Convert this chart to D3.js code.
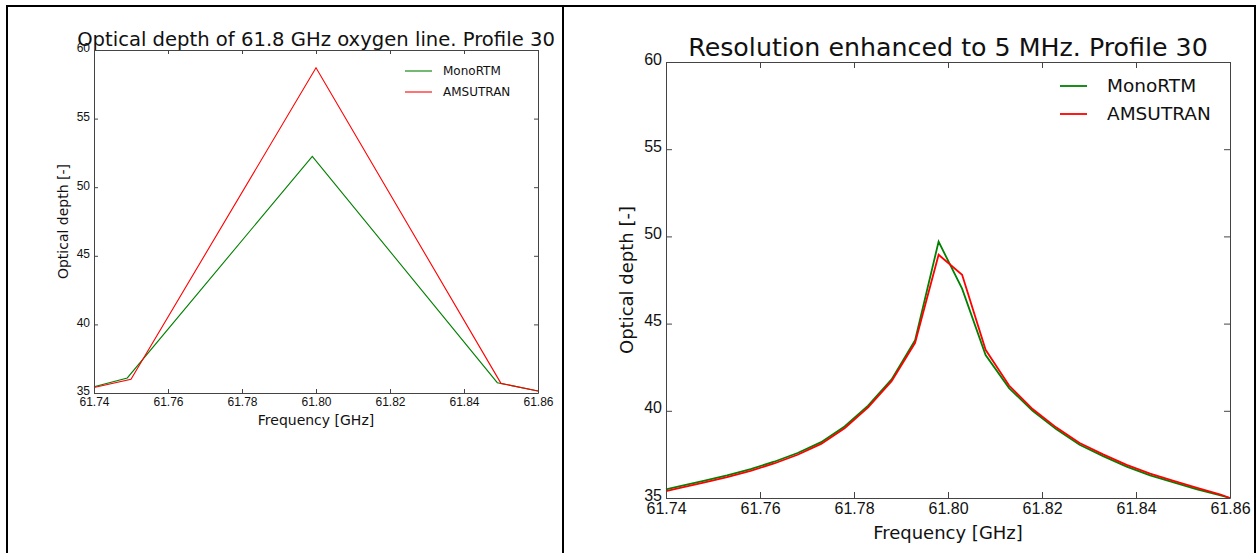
<!DOCTYPE html>
<html>
<head>
<meta charset="utf-8">
<script src="https://cdn.jsdelivr.net/npm/d3@7"></script>
<style>
    body { margin: 0; background: #fff; }
    svg { display: block; font-family: "DejaVu Sans", sans-serif; }
    .axis path, .axis line { stroke: #444; }
    .axis text { fill: #111; }
    .series { fill: none; }
</style>
</head>
<body>
<div id="chart"></div>
<script>
const width = 1258
const height = 553

// left panel: coarse grid
const lowFreqMono = [61.74, 61.749, 61.799, 61.849, 61.86]
const lowMono = [35.45, 36.1, 52.25, 35.75, 35.15]
const lowFreqAms = [61.74, 61.75, 61.80, 61.85, 61.86]
const lowAms = [35.4, 36.0, 58.7, 35.7, 35.15]

// right panel: 5 MHz grid
const hiFreq = [61.740, 61.743, 61.748, 61.753, 61.758, 61.763, 61.768, 61.773, 61.778, 61.783,
    61.788, 61.793, 61.798, 61.803, 61.808, 61.813, 61.818, 61.823, 61.828, 61.833,
    61.838, 61.843, 61.848, 61.853, 61.858, 61.860]
const hiMono = [35.50, 35.68, 35.98, 36.30, 36.66, 37.08, 37.58, 38.20, 39.10, 40.30,
    41.80, 44.05, 49.70, 47.00, 43.20, 41.30, 40.00, 38.95, 38.05, 37.40,
    36.80, 36.30, 35.90, 35.50, 35.15, 35.00]
const hiAms = [35.40, 35.58, 35.88, 36.20, 36.56, 36.98, 37.48, 38.10, 39.00, 40.20,
    41.70, 43.90, 48.95, 47.80, 43.50, 41.45, 40.10, 39.05, 38.15, 37.50,
    36.90, 36.40, 35.98, 35.58, 35.20, 35.00]

const xTicks = [61.74, 61.76, 61.78, 61.80, 61.82, 61.84, 61.86]
const yTicks = [35, 40, 45, 50, 55, 60]
const seriesNames = ['MonoRTM', 'AMSUTRAN']
const colors = ['#008000', '#ff0000']

let svg = d3.select('#chart').append('svg').attr('width', width).attr('height', height)

// table borders
let borderGroup = svg.append('g').attr('id', 'borderGroup')
    .attr('stroke', '#000').attr('stroke-width', 2)
borderGroup.append('line').attr('x1', 6).attr('x2', 1256).attr('y1', 6).attr('y2', 6)
borderGroup.selectAll('line.v').data([7, 563, 1255]).enter().append('line')
    .attr('class', 'v')
    .attr('x1', d => d).attr('x2', d => d).attr('y1', 6).attr('y2', height)

const panels = [
    {
        id: 'left',
        left: 94, right: 538, top: 50, bottom: 393,
        title: 'Optical depth of 61.8 GHz oxygen line. Profile 30',
        titleSize: 19.6, titleY: 46,
        tickSize: 12, labelSize: 14, legendSize: 12,
        xPad: 4, yShift: -2,
        yLabelX: 63, xLabelY: 425,
        lineWidth: 1.1, tick: 4,
        legend: { x: 405, y: 71, gap: 21, len: 27, textX: 443 },
        series: [
            { x: lowFreqMono, y: lowMono },
            { x: lowFreqAms, y: lowAms }
        ]
    },
    {
        id: 'right',
        left: 666, right: 1230, top: 62, bottom: 498,
        title: 'Resolution enhanced to 5 MHz. Profile 30',
        titleSize: 25.3, titleY: 56,
        tickSize: 16, labelSize: 18, legendSize: 18.5,
        xPad: 5, yShift: -3,
        yLabelX: 627, xLabelY: 539,
        lineWidth: 1.8, tick: 6,
        legend: { x: 1060, y: 86, gap: 28, len: 27, textX: 1107 },
        series: [
            { x: hiFreq, y: hiMono },
            { x: hiFreq, y: hiAms }
        ]
    }
]

panels.forEach(drawPanel)

function drawPanel(p) {
    const w = p.right - p.left
    const h = p.bottom - p.top

    let x = d3.scaleLinear().domain([61.74, 61.86]).range([0, w])
    let y = d3.scaleLinear().domain([35, 60]).range([h, 0])

    let g = svg.append('g').attr('id', p.id)
        .attr('transform', `translate(${p.left}, ${p.top})`)

    // lines
    let line = d3.line().x(d => x(d[0])).y(d => y(d[1]))
    p.series.forEach((s, i) => {
        g.append('path')
            .attr('class', 'series')
            .attr('d', line(s.x.map((f, j) => [f, s.y[j]])))
            .attr('stroke', colors[i])
            .attr('stroke-width', p.lineWidth)
    })

    // axes, ticks pointing inwards on all four sides
    let fmt = d3.format('.2f')
    let xAxisGroup = g.append('g').attr('class', 'axis')
        .attr('transform', `translate(0, ${h})`)
        .call(d3.axisBottom(x).tickValues(xTicks).tickFormat(fmt)
            .tickSizeInner(-p.tick).tickSizeOuter(0).tickPadding(p.xPad))
    xAxisGroup.selectAll('text').style('font-size', p.tickSize + 'px')

    let yAxisGroup = g.append('g').attr('class', 'axis')
        .call(d3.axisLeft(y).tickValues(yTicks)
            .tickSizeInner(-p.tick).tickSizeOuter(0).tickPadding(4))
    yAxisGroup.selectAll('text')
        .style('font-size', p.tickSize + 'px')
        .attr('y', p.yShift)

    g.append('g').attr('class', 'axis')
        .call(d3.axisTop(x).tickValues(xTicks).tickFormat('')
            .tickSizeInner(-p.tick).tickSizeOuter(0))
    g.append('g').attr('class', 'axis')
        .attr('transform', `translate(${w}, 0)`)
        .call(d3.axisRight(y).tickValues(yTicks).tickFormat('')
            .tickSizeInner(-p.tick).tickSizeOuter(0))

    g.selectAll('.axis path, .axis line').attr('stroke-width', 1)

    // texts
    svg.append('text')
        .attr('x', p.left + w / 2).attr('y', p.titleY)
        .attr('text-anchor', 'middle')
        .style('font-size', p.titleSize + 'px')
        .attr('fill', '#111')
        .text(p.title)

    svg.append('text')
        .attr('x', p.left + w / 2).attr('y', p.xLabelY)
        .attr('text-anchor', 'middle')
        .style('font-size', p.labelSize + 'px')
        .attr('fill', '#111')
        .text('Frequency [GHz]')

    svg.append('text')
        .attr('transform', `translate(${p.yLabelX}, ${p.top + h / 2}) rotate(-90)`)
        .attr('text-anchor', 'middle')
        .attr('dy', '0.35em')
        .style('font-size', p.labelSize + 'px')
        .attr('fill', '#111')
        .text('Optical depth [-]')

    // legend
    let legend = svg.append('g').attr('class', 'legend')
    seriesNames.forEach((name, i) => {
        let ly = p.legend.y + i * p.legend.gap
        legend.append('line')
            .attr('x1', p.legend.x).attr('x2', p.legend.x + p.legend.len)
            .attr('y1', ly).attr('y2', ly)
            .attr('stroke', colors[i])
            .attr('stroke-width', p.lineWidth)
        legend.append('text')
            .attr('x', p.legend.textX).attr('y', ly)
            .attr('dy', '0.35em')
            .style('font-size', p.legendSize + 'px')
            .attr('fill', '#111')
            .text(name)
    })
}
</script>
</body>
</html>
